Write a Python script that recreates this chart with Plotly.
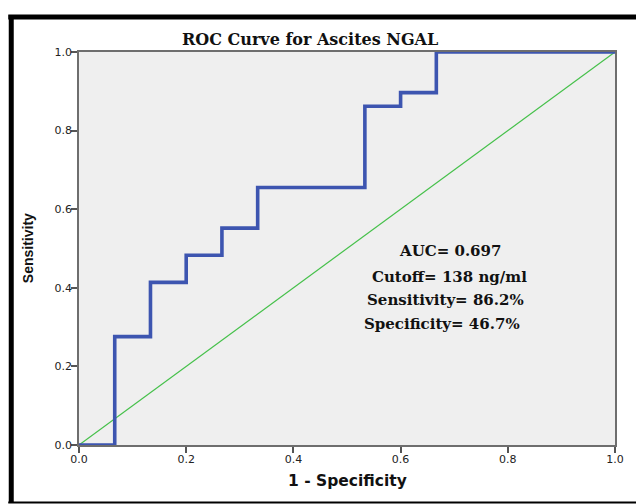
import plotly.graph_objects as go

# ROC step points (1 - specificity, sensitivity)
fpr = [0.0, 1/15, 2/15, 3/15, 4/15, 5/15, 8/15, 9/15, 10/15, 1.0]
tpr = [0.0, 8/29, 12/29, 14/29, 16/29, 19/29, 25/29, 26/29, 1.0, 1.0]
diag_x = [0.0, 1.0]
diag_y = [0.0, 1.0]
tick_vals = [0.0, 0.2, 0.4, 0.6, 0.8, 1.0]
tick_text = ["0.0", "0.2", "0.4", "0.6", "0.8", "1.0"]
title_text = "ROC Curve for Ascites NGAL"
stats_text = ["AUC= 0.697", "Cutoff= 138 ng/ml", "Sensitivity= 86.2%", "Specificity= 46.7%"]
stats_x = [451, 451, 447, 443]
stats_y = [251, 277, 300, 324]

W, H = 636, 504
L, R, T, B = 79, 19, 52, 59
pw, ph = W - L - R, H - T - B

def px(x):
    return (x - L) / pw

def py(y):
    return (H - B - y) / ph

fig = go.Figure()
fig.add_trace(go.Scatter(x=diag_x, y=diag_y, mode="lines",
                         line=dict(color="#45c04a", width=1.2),
                         hoverinfo="skip", showlegend=False))
fig.add_trace(go.Scatter(x=fpr, y=tpr, mode="lines", line_shape="hv",
                         line=dict(color="#3d55b0", width=3.6),
                         cliponaxis=False, showlegend=False))

axis_common = dict(range=[0, 1], tickvals=tick_vals, ticktext=tick_text,
                   showgrid=False, zeroline=False, showline=True,
                   linecolor="#6e6e6e", linewidth=1.5, mirror=True,
                   ticks="outside", ticklen=6, tickcolor="#555555", tickwidth=1.5,
                   ticklabelstandoff=-3,
                   tickfont=dict(family="DejaVu Sans", size=11, color="#222222"))

fig.update_xaxes(**axis_common)
fig.update_yaxes(**axis_common)

def ann(x, y, text, font, size, angle=0):
    return dict(x=px(x), y=py(y), xref="paper", yref="paper", text=text,
                xanchor="center", yanchor="middle", showarrow=False, textangle=angle,
                font=dict(family=font, size=size, color="#111111"))

annotations = [
    ann(311, 40, "<b>" + title_text + "</b>", "DejaVu Serif", 16),
    ann(348, 481, "<b>1 - Specificity</b>", "DejaVu Sans", 15.5),
    ann(28, 248, "<b>Sensitivity</b>", "Liberation Sans, Arial", 14, -90),
]
for t, sx, sy in zip(stats_text, stats_x, stats_y):
    annotations.append(ann(sx, sy, "<b>" + t + "</b>", "DejaVu Serif", 15))

shapes = [
    dict(type="line", xref="paper", yref="paper", x0=px(8), x1=px(640), y0=py(17), y1=py(17),
         line=dict(color="black", width=5)),
    dict(type="line", xref="paper", yref="paper", x0=px(11), x1=px(11), y0=py(15), y1=py(503),
         line=dict(color="black", width=5)),
    dict(type="line", xref="paper", yref="paper", x0=px(8), x1=px(640), y0=py(502.5), y1=py(502.5),
         line=dict(color="black", width=2)),
]

fig.update_layout(width=W, height=H, margin=dict(l=L, r=R, t=T, b=B),
                  paper_bgcolor="white", plot_bgcolor="#efefef",
                  annotations=annotations, shapes=shapes, showlegend=False)

fig.write_html("out.html")
